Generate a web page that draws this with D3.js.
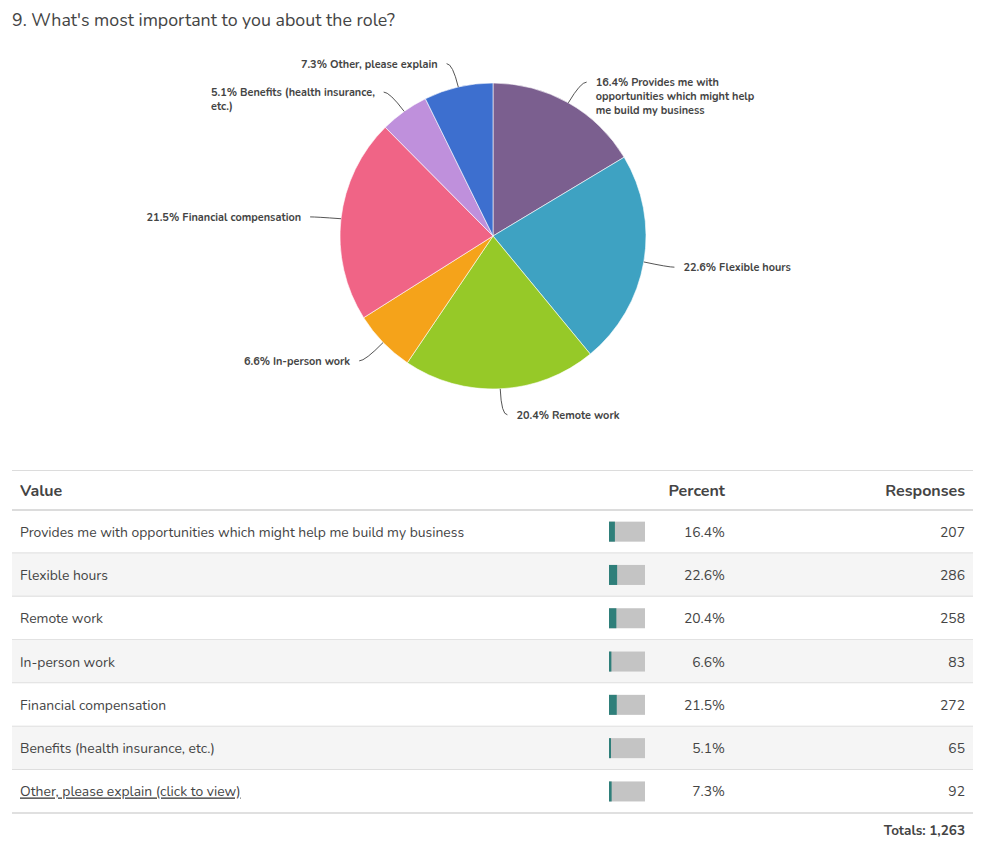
<!DOCTYPE html>
<html>
<head>
<meta charset="utf-8">
<script src="https://cdn.jsdelivr.net/npm/d3@7/dist/d3.min.js"></script>
<style>
  html, body { margin: 0; padding: 0; background: #fff; }
  svg { display: block; }
  text { font-family: Nunito, Lato, "Open Sans", sans-serif; }
</style>
</head>
<body>
<svg id="chart" width="981" height="848"></svg>
<script>
// ---- data ----
const title = "9. What's most important to you about the role?";
const categories = [
  "Provides me with opportunities which might help me build my business",
  "Flexible hours",
  "Remote work",
  "In-person work",
  "Financial compensation",
  "Benefits (health insurance, etc.)",
  "Other, please explain"
];
const pieLabels = [
  ["16.4% Provides me with", "opportunities which might help", "me build my business"],
  ["22.6% Flexible hours"],
  ["20.4% Remote work"],
  ["6.6% In-person work"],
  ["21.5% Financial compensation"],
  ["5.1% Benefits (health insurance,", "etc.)"],
  ["7.3% Other, please explain"]
];
const tableLabels = [
  "Provides me with opportunities which might help me build my business",
  "Flexible hours",
  "Remote work",
  "In-person work",
  "Financial compensation",
  "Benefits (health insurance, etc.)",
  "Other, please explain (click to view)"
];
const percents = [16.4, 22.6, 20.4, 6.6, 21.5, 5.1, 7.3];
const responses = [207, 286, 258, 83, 272, 65, 92];
const colors = ["#7b5f8f", "#3ea2c2", "#96c928", "#f5a31a", "#f06486", "#bf90dc", "#3d6fcf"];
const headers = ["Value", "Percent", "Responses"];
const totalLabel = "Totals: 1,263";

// ---- setup ----
const svg = d3.select("#chart");
const textColor = "#444";

svg.append("text")
  .attr("x", 12).attr("y", 26)
  .attr("font-size", 17.8)
  .attr("fill", textColor)
  .text(title);

// ---- pie ----
const cx = 493, cy = 236, R = 153;
const g = svg.append("g").attr("transform", `translate(${cx},${cy})`);
const pie = d3.pie().sort(null).value(d => d.v);
const data = categories.map((c, i) => ({ c, v: responses[i], i }));
const arcs = pie(data);
const arc = d3.arc().innerRadius(0).outerRadius(R);

g.selectAll("path.slice").data(arcs).join("path")
  .attr("class", "slice")
  .attr("d", arc)
  .attr("fill", d => colors[d.data.i])
  .attr("stroke", "#fff")
  .attr("stroke-width", 0.6);

function polar(a, r) { return [Math.sin(a) * r, -Math.cos(a) * r]; }

arcs.forEach(d => {
  const a = (d.startAngle + d.endAngle) / 2;
  const right = a < Math.PI;
  const E = polar(a, R);
  const A = polar(a, R + 25);
  const end = [A[0] + (right ? 6 : -6), A[1] + 1];
  const path = d3.path();
  path.moveTo(E[0], E[1]);
  path.quadraticCurveTo(A[0], A[1] + 1, end[0], end[1]);
  g.append("path")
    .attr("d", path.toString())
    .attr("fill", "none")
    .attr("stroke", "#555")
    .attr("stroke-width", 1);

  const lines = pieLabels[d.data.i];
  const t = g.append("text")
    .attr("font-size", 10.9)
    .attr("font-weight", "bold")
    .attr("fill", textColor);
  lines.forEach((ln, k) => {
    t.append("tspan").attr("dy", k === 0 ? 0 : 14).text(ln);
  });
  let w = 0;
  t.selectAll("tspan").each(function () { w = Math.max(w, this.getComputedTextLength()); });
  const x0 = right ? A[0] + 15 : A[0] - 15 - w;
  const y0 = A[1] + 1 + 4;
  t.attr("x", x0).attr("y", y0);
  t.selectAll("tspan").attr("x", x0);
});

// ---- table ----
const tLeft = 12, tRight = 973;
const headerTop = 470, headerBottom = 510;
const rowH = 43.3;
const colPctX = 725, colRespX = 965, colValX = 20;
const barX = 609, barW = 36, barH = 20;
const xBar = d3.scaleLinear().domain([0, 100]).range([0, barW]);
const rowY = d3.scaleBand().domain(d3.range(categories.length))
  .range([headerBottom, headerBottom + rowH * categories.length]).padding(0);

svg.append("line").attr("x1", tLeft).attr("x2", tRight)
  .attr("y1", headerTop + 0.5).attr("y2", headerTop + 0.5)
  .attr("stroke", "#dcdcdc").attr("stroke-width", 1);

const hy = (headerTop + headerBottom) / 2 + 6;
const hdr = [[colValX, "start"], [colPctX, "end"], [colRespX, "end"]];
hdr.forEach((h, k) => {
  svg.append("text").attr("x", h[0]).attr("y", hy).attr("font-size", 16)
    .attr("text-anchor", h[1]).attr("font-weight", "bold").attr("fill", textColor)
    .text(headers[k]);
});

const rows = svg.selectAll("g.row").data(d3.range(categories.length)).join("g")
  .attr("class", "row")
  .attr("transform", i => `translate(0,${rowY(i)})`);

rows.append("rect")
  .attr("x", tLeft).attr("width", tRight - tLeft)
  .attr("y", 0).attr("height", rowY.bandwidth())
  .attr("fill", i => i % 2 === 1 ? "#f5f5f5" : "#fff");

rows.append("line")
  .attr("x1", tLeft).attr("x2", tRight)
  .attr("y1", rowY.bandwidth()).attr("y2", rowY.bandwidth())
  .attr("stroke", "#d6d6d6").attr("stroke-width", 1.5);

const mid = rowY.bandwidth() / 2;
rows.append("text")
  .attr("x", colValX).attr("y", mid + 5)
  .attr("font-size", 13.9).attr("fill", textColor)
  .attr("text-decoration", i => i === categories.length - 1 ? "underline" : null)
  .text(i => tableLabels[i]);

rows.append("rect")
  .attr("x", barX).attr("y", mid - barH / 2)
  .attr("width", barW).attr("height", barH)
  .attr("fill", "#c4c4c4");
rows.append("rect")
  .attr("x", barX).attr("y", mid - barH / 2)
  .attr("width", i => Math.max(2, xBar(percents[i])))
  .attr("height", barH)
  .attr("fill", "#2f7f7a");

rows.append("text")
  .attr("x", colPctX).attr("y", mid + 5)
  .attr("text-anchor", "end").attr("font-size", 13.9).attr("fill", textColor)
  .text(i => percents[i].toFixed(1) + "%");
rows.append("text")
  .attr("x", colRespX).attr("y", mid + 5)
  .attr("text-anchor", "end").attr("font-size", 13.9).attr("fill", textColor)
  .text(i => responses[i]);

svg.append("line").attr("x1", tLeft).attr("x2", tRight)
  .attr("y1", headerBottom).attr("y2", headerBottom)
  .attr("stroke", "#d0d0d0").attr("stroke-width", 1.5);

svg.append("text")
  .attr("x", colRespX).attr("y", 835)
  .attr("text-anchor", "end").attr("font-size", 13.5).attr("font-weight", "bold")
  .attr("fill", textColor).text(totalLabel);
</script>
</body>
</html>
